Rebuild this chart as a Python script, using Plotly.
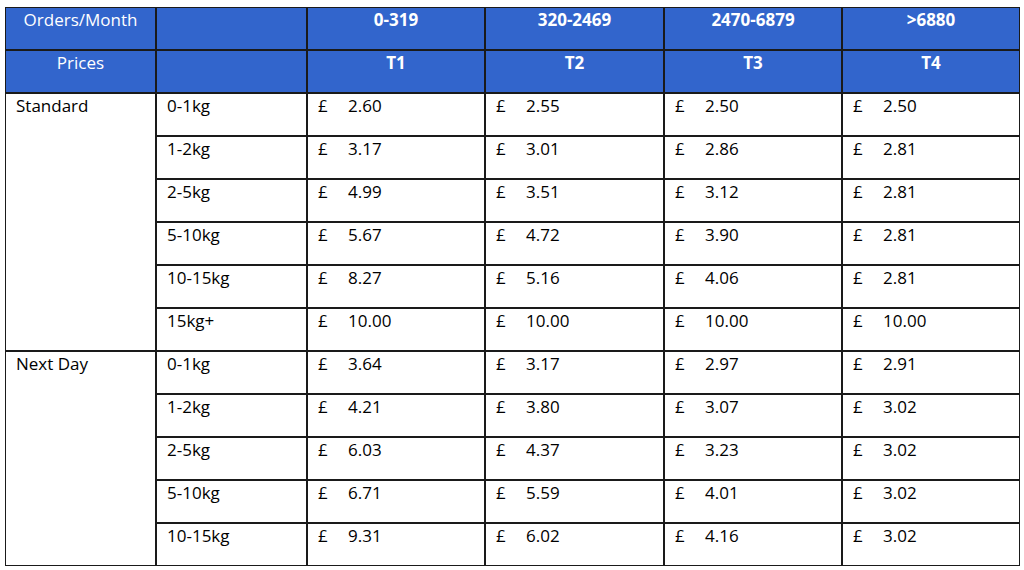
import plotly.graph_objects as go

order_bands = ["0-319", "320-2469", "2470-6879", ">6880"]
tiers = ["T1", "T2", "T3", "T4"]
services = ["Standard", "Next Day"]

standard_weights = ["0-1kg", "1-2kg", "2-5kg", "5-10kg", "10-15kg", "15kg+"]
standard_t1 = [2.60, 3.17, 4.99, 5.67, 8.27, 10.00]
standard_t2 = [2.55, 3.01, 3.51, 4.72, 5.16, 10.00]
standard_t3 = [2.50, 2.86, 3.12, 3.90, 4.06, 10.00]
standard_t4 = [2.50, 2.81, 2.81, 2.81, 2.81, 10.00]

next_day_weights = ["0-1kg", "1-2kg", "2-5kg", "5-10kg", "10-15kg"]
next_day_t1 = [3.64, 4.21, 6.03, 6.71, 9.31]
next_day_t2 = [3.17, 3.80, 4.37, 5.59, 6.02]
next_day_t3 = [2.97, 3.07, 3.23, 4.01, 4.16]
next_day_t4 = [2.91, 3.02, 3.02, 3.02, 3.02]

# ---- layout constants ----
col_widths = [151, 151, 178, 179, 178, 178]
HEADER_BLUE = "#3265CC"
LINE = "#1a1a1a"
FONT = "Open Sans"
FONT_SIZE = 17
TEXT_DY = 0.34         # text sits near top of each row
PAD = 11
PRICE_GAP = 30

edges = [0]
for w in col_widths:
    edges.append(edges[-1] + w)

n_rows = 2 + len(standard_weights) + len(next_day_weights)

shapes = []


def cell(c0, c1, r0, r1, fill="white"):
    shapes.append(dict(type="rect", xref="x", yref="y",
                       x0=edges[c0], x1=edges[c1], y0=r0, y1=r1,
                       fillcolor=fill, line=dict(color=LINE, width=2),
                       layer="below"))


texts = {"x": [], "y": [], "t": [], "pos": [], "color": []}
bold_texts = {"x": [], "y": [], "t": []}


def put(x, y, t, pos="middle right", color="black"):
    texts["x"].append(x)
    texts["y"].append(y)
    texts["t"].append(t)
    texts["pos"].append(pos)
    texts["color"].append(color)


# header rows
header_rows = [("Orders/Month", order_bands), ("Prices", tiers)]
for r, (label, cols) in enumerate(header_rows):
    for c in range(len(col_widths)):
        cell(c, c + 1, r, r + 1, HEADER_BLUE)
    put((edges[0] + edges[1]) / 2, r + TEXT_DY, label, "middle center", "white")
    for i, name in enumerate(cols):
        c = i + 2
        bold_texts["x"].append((edges[c] + edges[c + 1]) / 2)
        bold_texts["y"].append(r + TEXT_DY)
        bold_texts["t"].append("<b>%s</b>" % name)

# body
groups = [
    (services[0], standard_weights, [standard_t1, standard_t2, standard_t3, standard_t4]),
    (services[1], next_day_weights, [next_day_t1, next_day_t2, next_day_t3, next_day_t4]),
]
row = 2
for service, weights, prices in groups:
    cell(0, 1, row, row + len(weights))
    put(edges[0] + PAD, row + TEXT_DY, service)
    for j, w in enumerate(weights):
        r = row + j
        cell(1, 2, r, r + 1)
        put(edges[1] + PAD, r + TEXT_DY, w)
        for i, series in enumerate(prices):
            c = i + 2
            cell(c, c + 1, r, r + 1)
            put(edges[c] + PAD, r + TEXT_DY, "£")
            put(edges[c] + PAD + PRICE_GAP, r + TEXT_DY, "%.2f" % series[j])
    row += len(weights)

fig = go.Figure()
fig.add_trace(go.Scatter(
    x=texts["x"], y=texts["y"], text=texts["t"], mode="text",
    textposition=texts["pos"],
    textfont=dict(family=FONT, size=FONT_SIZE, color=texts["color"]),
    hoverinfo="skip", showlegend=False))
fig.add_trace(go.Scatter(
    x=bold_texts["x"], y=bold_texts["y"], text=bold_texts["t"], mode="text",
    textposition="middle center",
    textfont=dict(family=FONT, size=FONT_SIZE, color="white"),
    hoverinfo="skip", showlegend=False))

fig.update_layout(
    width=1024, height=570,
    margin=dict(l=5, r=4, t=7, b=4),
    paper_bgcolor="white", plot_bgcolor="white",
    shapes=shapes,
    xaxis=dict(range=[0, edges[-1]], visible=False, fixedrange=True),
    yaxis=dict(range=[n_rows, 0], visible=False, fixedrange=True),
)

# drop the default page margin so the table lines up with the window
fig.write_html("out.html", config={"displayModeBar": False},
               post_script="document.body.style.margin='0';")
